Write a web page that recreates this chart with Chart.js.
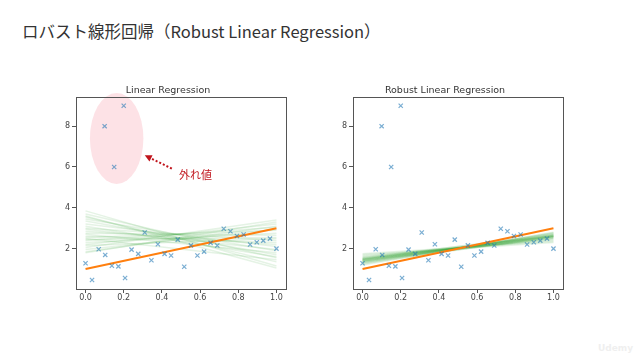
<!DOCTYPE html>
<html>
<head>
<meta charset="utf-8">
<script src="https://cdn.jsdelivr.net/npm/chart.js@4/dist/chart.umd.min.js"></script>
<style>
  body { margin: 0; width: 640px; height: 360px; background: #fff; position: relative; overflow: hidden; }
  #title { position: absolute; left: 22px; top: 21px; font: 16.5px/20px "Noto Sans CJK JP", sans-serif; color: #333; white-space: nowrap; }
  .box { position: absolute; top: 79px; height: 232px; width: 246px; }
  #wm { position: absolute; left: 598px; top: 343px; font: bold 9px "DejaVu Sans", sans-serif; color: #efefef; }
</style>
</head>
<body>
<div id="title">ロバスト線形回帰（Robust Linear Regression）</div>
<div class="box" style="left:50px"><canvas id="lin"></canvas></div>
<div class="box" style="left:327px"><canvas id="rob"></canvas></div>
<div id="wm">Udemy</div>
<script>
// observed points (30 evenly spaced x)
const xs = [0, 0.034, 0.069, 0.103, 0.138, 0.172, 0.207, 0.241, 0.276, 0.310,
  0.345, 0.379, 0.414, 0.448, 0.483, 0.517, 0.552, 0.586, 0.621, 0.655,
  0.690, 0.724, 0.759, 0.793, 0.828, 0.862, 0.897, 0.931, 0.966, 1.0];
const ys = [1.28, 0.46, 1.97, 1.69, 1.16, 1.13, 0.56, 1.95, 1.74, 2.79,
  1.43, 2.21, 1.74, 1.66, 2.44, 1.11, 2.16, 1.66, 1.85, 2.28,
  2.15, 2.97, 2.85, 2.62, 2.69, 2.20, 2.31, 2.39, 2.49, 2.00];
// outliers
const outX = [0.10, 0.15, 0.20];
const outY = [8, 6, 9];
// true regression line, values at x = 0 and x = 1
const lineX = [0, 1];
const trueY = [1.0, 3.0];
// posterior sample lines: value at x=0 and at x=1
const linStart = [3.85, 3.70, 3.55, 3.45, 3.35, 3.20, 3.10, 3.00, 2.95, 2.85, 2.75, 2.70,
  2.60, 2.55, 2.45, 2.40, 2.30, 2.20, 2.15, 2.05, 1.95, 1.85, 1.80, 2.50, 3.60];
const linEnd = [1.15, 1.55, 1.35, 1.90, 1.70, 2.10, 1.60, 2.40, 1.95, 2.20, 2.65, 1.80,
  2.30, 2.90, 2.55, 3.05, 2.75, 3.20, 2.50, 3.40, 2.95, 3.10, 3.30, 1.45, 1.05];
const robStart = [1.45, 1.40, 1.50, 1.35, 1.55, 1.42, 1.48, 1.30, 1.60, 1.38, 1.52, 1.44, 1.25,
  1.65, 1.47, 1.36, 1.56, 1.33, 1.70, 1.20, 1.40, 1.50, 1.75, 1.28, 1.46];
const robEnd = [2.60, 2.65, 2.55, 2.70, 2.50, 2.58, 2.62, 2.75, 2.45, 2.68, 2.60, 2.52, 2.80,
  2.40, 2.66, 2.56, 2.64, 2.62, 2.30, 2.78, 2.50, 2.72, 2.35, 2.58, 2.59];
const xTicks = [0, 0.2, 0.4, 0.6, 0.8, 1.0];
const yTicks = [2, 4, 6, 8];

const BLUE = 'rgba(31,119,180,0.6)';
const font = { family: 'DejaVu Sans', size: 8 };

function buildDatasets(starts, ends) {
  const pts = xs.map((x, i) => ({ x: x, y: ys[i] }))
    .concat(outX.map((x, i) => ({ x: x, y: outY[i] })));
  const sets = [{
    data: pts, pointStyle: 'crossRot', pointRadius: 3, borderColor: BLUE,
    backgroundColor: BLUE, pointBorderWidth: 1.2, showLine: false
  }, {
    data: lineX.map((x, i) => ({ x: x, y: trueY[i] })), showLine: true,
    borderColor: '#ff7f0e', borderWidth: 2, pointRadius: 0
  }];
  starts.forEach((s, i) => {
    sets.push({
      data: [{ x: lineX[0], y: s }, { x: lineX[1], y: ends[i] }], showLine: true,
      borderColor: 'rgba(44,160,44,0.12)', borderWidth: 1.5, pointRadius: 0
    });
  });
  return sets;
}

const frame = {
  id: 'frame',
  afterDraw(chart) {
    const a = chart.chartArea, ctx = chart.ctx;
    ctx.save();
    ctx.strokeStyle = '#555';
    ctx.lineWidth = 1;
    ctx.strokeRect(Math.round(a.left) + 0.5, Math.round(a.top) + 0.5,
      Math.round(a.right - a.left), Math.round(a.bottom - a.top));
    ctx.restore();
  }
};

// outlier note on the left plot (data coordinates)
const note = { cx: 0.163, cy: 7.40, rx: 0.14, ry: 2.23,
  arrowFrom: [0.452, 5.92], arrowTo: [0.31, 6.57], textAt: [0.49, 5.60], text: '外れ値' };

const outlierNote = {
  id: 'outlierNote',
  beforeDatasetsDraw(chart) {
    const sx = chart.scales.x, sy = chart.scales.y, ctx = chart.ctx;
    const cx = sx.getPixelForValue(note.cx), cy = sy.getPixelForValue(note.cy);
    const rx = sx.getPixelForValue(note.cx + note.rx) - cx;
    const ry = cy - sy.getPixelForValue(note.cy + note.ry);
    ctx.save();
    ctx.fillStyle = 'rgba(250,190,200,0.45)';
    ctx.beginPath();
    ctx.ellipse(cx, cy, rx, ry, 0, 0, Math.PI * 2);
    ctx.fill();
    ctx.restore();
  },
  afterDatasetsDraw(chart) {
    const sx = chart.scales.x, sy = chart.scales.y, ctx = chart.ctx;
    const x0 = sx.getPixelForValue(note.arrowFrom[0]), y0 = sy.getPixelForValue(note.arrowFrom[1]);
    const x1 = sx.getPixelForValue(note.arrowTo[0]), y1 = sy.getPixelForValue(note.arrowTo[1]);
    const ang = Math.atan2(y1 - y0, x1 - x0);
    ctx.save();
    ctx.strokeStyle = '#c0141c';
    ctx.fillStyle = '#c0141c';
    ctx.lineWidth = 2;
    ctx.setLineDash([2, 2]);
    ctx.beginPath();
    ctx.moveTo(x0, y0);
    ctx.lineTo(x1 - 5 * Math.cos(ang), y1 - 5 * Math.sin(ang));
    ctx.stroke();
    ctx.setLineDash([]);
    ctx.beginPath();
    ctx.moveTo(x1, y1);
    ctx.lineTo(x1 - 7 * Math.cos(ang) + 3.5 * Math.sin(ang), y1 - 7 * Math.sin(ang) - 3.5 * Math.cos(ang));
    ctx.lineTo(x1 - 7 * Math.cos(ang) - 3.5 * Math.sin(ang), y1 - 7 * Math.sin(ang) + 3.5 * Math.cos(ang));
    ctx.closePath();
    ctx.fill();
    ctx.font = '11px "Noto Sans CJK JP"';
    ctx.textBaseline = 'middle';
    ctx.fillText(note.text, sx.getPixelForValue(note.textAt[0]), sy.getPixelForValue(note.textAt[1]));
    ctx.restore();
  }
};

function makeConfig(title, starts, ends, plugins) {
  return {
    type: 'scatter',
    data: { datasets: buildDatasets(starts, ends) },
    plugins: plugins,
    options: {
      responsive: true,
      maintainAspectRatio: false,
      animation: false,
      layout: { padding: { left: 0, right: 10, top: 0, bottom: 0 } },
      plugins: {
        legend: { display: false },
        tooltip: { enabled: false },
        title: {
          display: true, text: title, color: '#333',
          font: { family: 'DejaVu Sans', size: 9.5, weight: 'normal', lineHeight: 1.2 },
          padding: { top: 5.5, bottom: 1.1 }
        }
      },
      scales: {
        x: {
          type: 'linear', min: -0.05, max: 1.05,
          afterBuildTicks: s => { s.ticks = xTicks.map(v => ({ value: v })); },
          afterFit: s => { s.height = 22; },
          grid: { drawOnChartArea: false, drawTicks: true, tickLength: 4, color: '#555' },
          border: { display: false },
          ticks: { font: font, color: '#444', padding: 0, maxRotation: 0,
            callback: v => v.toFixed(1) }
        },
        y: {
          type: 'linear', min: 0.02, max: 9.43,
          afterBuildTicks: s => { s.ticks = yTicks.map(v => ({ value: v })); },
          afterFit: s => { s.width = 26; },
          grid: { drawOnChartArea: false, drawTicks: true, tickLength: 4, color: '#555' },
          border: { display: false },
          ticks: { font: font, color: '#444', padding: 2, callback: v => String(v) }
        }
      }
    }
  };
}

new Chart(document.getElementById('lin'),
  makeConfig('Linear Regression', linStart, linEnd, [frame, outlierNote]));
new Chart(document.getElementById('rob'),
  makeConfig('Robust Linear Regression', robStart, robEnd, [frame]));
</script>
</body>
</html>
